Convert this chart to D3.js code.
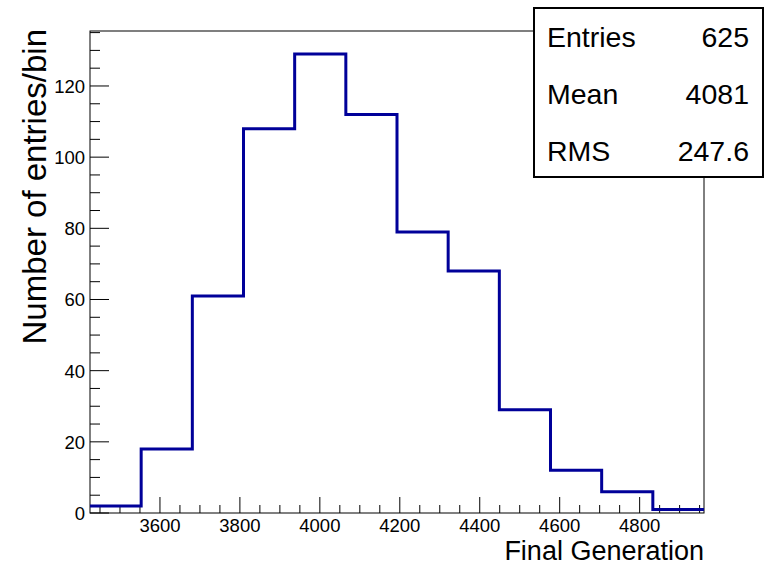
<!DOCTYPE html>
<html>
<head>
<meta charset="utf-8">
<script src="https://cdn.jsdelivr.net/npm/d3@7"></script>
<style>
  body { margin: 0; background: #fff; }
  text { font-family: "Liberation Sans", Arial, sans-serif; fill: #000; }
</style>
</head>
<body>
<div id="chart"></div>
<script>
// histogram bins
const binEdges = [3425, 3553, 3681, 3809, 3937, 4065, 4193, 4321, 4449, 4577, 4705, 4833, 4961];
const binCounts = [2, 18, 61, 108, 129, 112, 79, 68, 29, 12, 6, 1];
const xTicks = [3600, 3800, 4000, 4200, 4400, 4600, 4800];
const yTicks = [0, 20, 40, 60, 80, 100, 120];
const statNames = ["Entries", "Mean", "RMS"];
const statValues = ["625", "4081", "247.6"];

const config = {
    width: 767,
    height: 566,
    margin: { top: 31, left: 90, right: 63, bottom: 53 }
};

const innerW = config.width - config.margin.left - config.margin.right;
const innerH = config.height - config.margin.top - config.margin.bottom;

const svg = d3.select("#chart").append("svg")
    .attr("width", config.width)
    .attr("height", config.height);

const chart = svg.append("g")
    .attr("transform", `translate(${config.margin.left},${config.margin.top})`);

const xScale = d3.scaleLinear()
    .domain([binEdges[0], binEdges[binEdges.length - 1]])
    .range([0, innerW]);

const yScale = d3.scaleLinear()
    .domain([0, d3.max(binCounts) * 1.05])
    .range([innerH, 0]);

// frame
chart.append("rect")
    .attr("width", innerW)
    .attr("height", innerH)
    .attr("fill", "none")
    .attr("stroke", "#000")
    .attr("stroke-width", 1);

// x ticks (drawn inward, ROOT style)
const xMinor = d3.range(3450, binEdges[binEdges.length - 1], 50);
chart.selectAll(".xminor")
    .data(xMinor)
    .join("line")
    .attr("x1", d => xScale(d)).attr("x2", d => xScale(d))
    .attr("y1", innerH).attr("y2", d => innerH - (d % 200 === 0 ? 16 : 8))
    .attr("stroke", "#000");

chart.selectAll(".xlab")
    .data(xTicks)
    .join("text")
    .attr("x", d => xScale(d))
    .attr("y", innerH + 19)
    .attr("text-anchor", "middle")
    .attr("font-size", 18.5)
    .text(d => d);

// y ticks
const yMinor = d3.range(0, yScale.domain()[1], 5);
chart.selectAll(".yminor")
    .data(yMinor)
    .join("line")
    .attr("x1", 0).attr("x2", d => (d % 20 === 0 ? 19 : 10))
    .attr("y1", d => yScale(d)).attr("y2", d => yScale(d))
    .attr("stroke", "#000");

chart.selectAll(".ylab")
    .data(yTicks)
    .join("text")
    .attr("x", -5)
    .attr("y", d => yScale(d) + 7)
    .attr("text-anchor", "end")
    .attr("font-size", 18.5)
    .text(d => d);

// histogram outline
const pts = [];
binCounts.forEach((c, i) => {
    pts.push([binEdges[i], c]);
    pts.push([binEdges[i + 1], c]);
});
const line = d3.line()
    .x(d => xScale(d[0]))
    .y(d => yScale(d[1]));

chart.append("path")
    .attr("d", line(pts))
    .attr("fill", "none")
    .attr("stroke", "#000099")
    .attr("stroke-width", 3);

// axis titles
svg.append("text")
    .attr("x", 704)
    .attr("y", 560)
    .attr("text-anchor", "end")
    .attr("font-size", 27)
    .text("Final Generation");

svg.append("text")
    .attr("transform", "translate(46,29) rotate(-90)")
    .attr("text-anchor", "end")
    .attr("font-size", 33)
    .text("Number of entries/bin");

// stats box
const box = svg.append("g").attr("transform", "translate(534,8)");
box.append("rect")
    .attr("width", 229)
    .attr("height", 169)
    .attr("fill", "#fff")
    .attr("stroke", "#000")
    .attr("stroke-width", 2);

box.selectAll(".sname")
    .data(statNames)
    .join("text")
    .attr("x", 13)
    .attr("y", (d, i) => 39 + i * 57)
    .attr("font-size", 28.5)
    .text(d => d);

box.selectAll(".sval")
    .data(statValues)
    .join("text")
    .attr("x", 215)
    .attr("y", (d, i) => 39 + i * 57)
    .attr("text-anchor", "end")
    .attr("font-size", 28.5)
    .text(d => d);
</script>
</body>
</html>
